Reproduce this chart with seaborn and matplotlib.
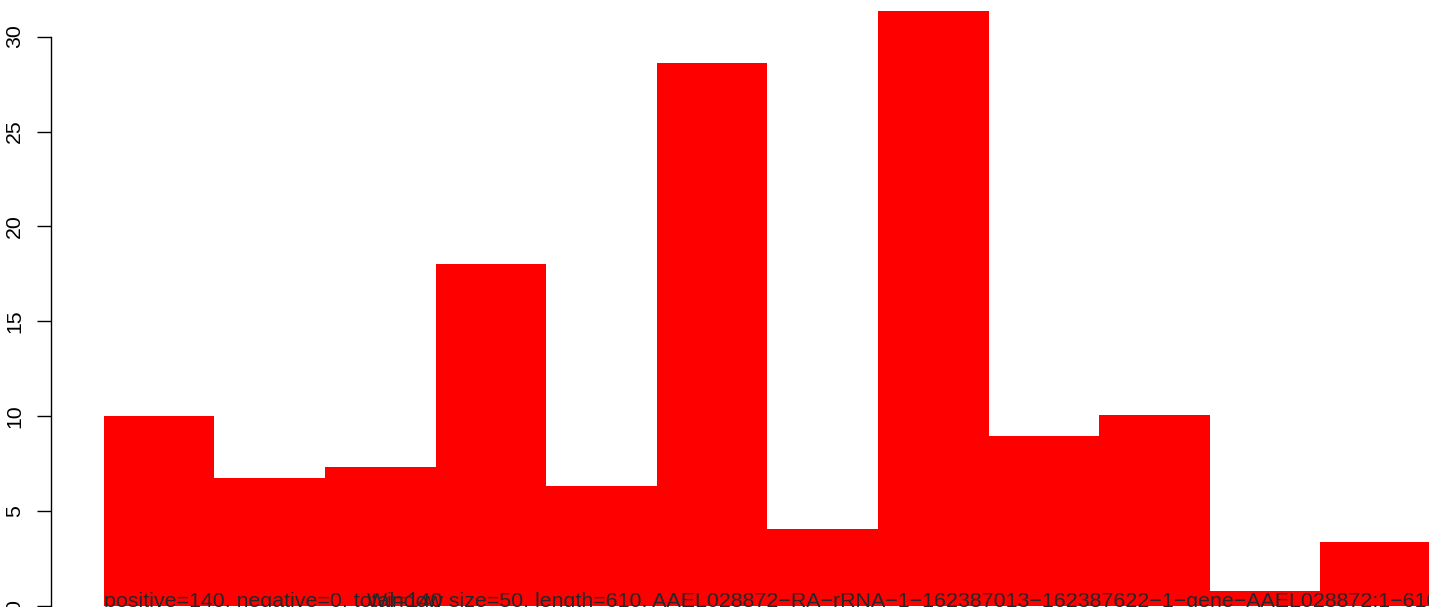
import matplotlib
matplotlib.use("Agg")
import matplotlib.pyplot as plt
import seaborn as sns
import pandas as pd

# window values
windows = list(range(1, 13))
values = [10.0, 6.74, 7.32, 18.02, 6.32, 28.61, 4.06, 31.35, 8.97, 10.06, 0.81, 3.37]
y_ticks = [0, 5, 10, 15, 20, 25, 30]
counts_label = "positive=140, negative=0, total=140"
title_label = ("Window size=50, length=610, "
               "AAEL028872\u2212RA\u2212rRNA\u22121\u2212162387013\u2212162387622"
               "\u22121\u2212gene\u2212AAEL028872:1\u2212610")

df = pd.DataFrame({"window": windows, "value": values})

sns.set_style("white")
plt.rcParams["font.family"] = ["Liberation Sans", "DejaVu Sans"]

W, H = 1429, 607
fig = plt.figure(figsize=(W / 100, H / 100), dpi=100)

px_unit_x = 110.6
px_unit_y = 18.98
ax = fig.add_axes([50.7 / W, 1.0 / H, 12.96 * px_unit_x / W, 32 * px_unit_y / H])

sns.barplot(data=df, x="window", y="value", color="#ff0000", saturation=1,
            width=1.0, linewidth=0, ax=ax)

ax.set_xlim(-0.98, 11.98)
ax.set_ylim(0, 32)
ax.set_xlabel("")
ax.set_ylabel("")
ax.set_xticks([])
ax.set_yticks(y_ticks)
ax.set_yticklabels([str(t) for t in y_ticks], rotation=90, va="center", fontsize=15.3)
ax.tick_params(axis="y", left=True, direction="out", length=10, width=1, pad=9,
               color="black", labelcolor="black")

for side in ["top", "right", "bottom"]:
    ax.spines[side].set_visible(False)
ax.spines["left"].set_bounds(0, 30)
ax.spines["left"].set_linewidth(1)
ax.spines["left"].set_color("black")

ax.text(-0.5, -0.05, counts_label, ha="left", va="baseline", fontsize=15.4, clip_on=False)
ax.text(1.878, -0.05, title_label, ha="left", va="baseline", fontsize=15.4, clip_on=False)

fig.savefig("out.png", dpi=100)
